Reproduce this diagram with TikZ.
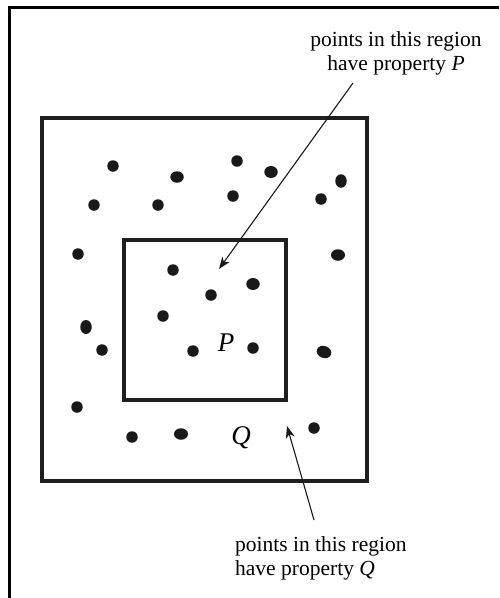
\documentclass[tikz,border=0pt]{standalone}
\usepackage{fontspec}
\setmainfont{Liberation Serif}
\usetikzlibrary{shapes.geometric,arrows.meta}
\begin{document}
\begin{tikzpicture}[x=1pt,y=-1pt,
  dot/.style={ellipse,fill=black!90,inner sep=0pt,minimum width=11.5pt,minimum height=11.5pt},
  box/.style={draw=black!88,line width=3.8pt,line join=miter},
  label/.style={inner sep=0pt,font=\fontsize{21.5}{24}\selectfont},
  letter/.style={inner sep=0pt,font=\fontsize{27}{30}\selectfont\itshape},
  pointer/.style={draw=black!90,line width=1.1pt,-{Stealth[length=12pt,width=9pt,inset=3.5pt]}}]
\useasboundingbox (0,0) rectangle (499,598);
% page frame (only left and top edges visible)
\draw[line width=3pt] (9.5,598) -- (9.5,7.5) -- (499,7.5);
% regions
\draw[box] (42,118) rectangle (367,481);
\draw[box] (124,240) rectangle (286,400);
% points
\node[dot] (d1) at (113,166) {};
\node[dot,minimum width=13.5pt,minimum height=11.5pt] (d2) at (177,177) {};
\node[dot] (d3) at (237,161) {};
\node[dot,minimum width=13.5pt,minimum height=12pt] (d4) at (271,172) {};
\node[dot,minimum width=11.5pt,minimum height=13.5pt] (d5) at (341,181) {};
\node[dot] (d6) at (94,205) {};
\node[dot] (d7) at (158,205) {};
\node[dot] (d8) at (233,196) {};
\node[dot] (d9) at (321,199) {};
\node[dot] (d10) at (78,254) {};
\node[dot,minimum width=14pt,minimum height=11.5pt] (d11) at (338,255) {};
\node[dot] (d12) at (173,270) {};
\node[dot,minimum width=13.5pt,minimum height=12pt] (d13) at (253,284) {};
\node[dot] (d14) at (211,295) {};
\node[dot] (d15) at (163,316) {};
\node[dot,minimum width=11.5pt,minimum height=14pt] (d16) at (86,327) {};
\node[dot] (d17) at (102,350) {};
\node[dot] (d18) at (193,351) {};
\node[dot] (d19) at (253,348) {};
\node[dot,minimum width=15pt,minimum height=12pt,rotate=-20] (d20) at (324,352) {};
\node[dot] (d21) at (77,407) {};
\node[dot] (d22) at (132,437) {};
\node[dot,minimum width=14pt,minimum height=11.5pt] (d23) at (181,434) {};
\node[dot] (d24) at (314,428) {};
% region letters
\node[letter] (P) at (226,343) {P};
\node[letter] (Q) at (241,438) {Q};
% labels
\node[label,align=center] (topLabel) at (396,53) {points in this region\\have property \textit{P}};
\node[label,align=left,anchor=west] (botLabel) at (235,558) {points in this region\\have property \textit{Q}};
% arrows
\coordinate (pTail) at (353,83);
\coordinate (pHead) at (219,269);
\coordinate (qTail) at (314,520);
\coordinate (qHead) at (287,426);
\draw[pointer] (pTail) -- (pHead);
\draw[pointer] (qTail) -- (qHead);
\end{tikzpicture}
\end{document}
